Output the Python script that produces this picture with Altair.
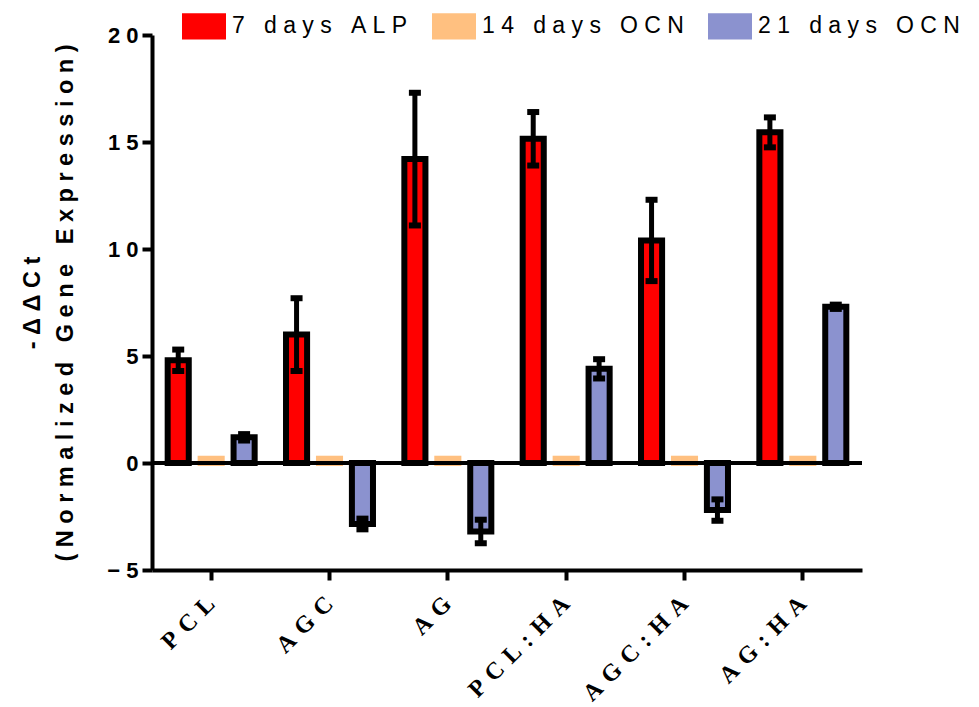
import altair as alt
import pandas as pd

groups = ["PCL", "AGC", "AG", "PCL:HA", "AGC:HA", "AG:HA"]
series = ["7 days ALP", "14 days OCN", "21 days OCN"]
colors = ["#FF0000", "#FFC080", "#8B92CF"]

alp7 = [4.8, 6.0, 14.2, 15.15, 10.4, 15.45]
alp7_err = [0.5, 1.7, 3.1, 1.25, 1.9, 0.7]
ocn14 = [0.2, 0.2, 0.2, 0.2, 0.2, 0.2]
ocn21 = [1.2, -2.85, -3.2, 4.4, -2.2, 7.3]
ocn21_err = [0.15, 0.25, 0.55, 0.45, 0.5, 0.1]

rows = []
for i, g in enumerate(groups):
    rows.append({"group": g, "series": series[0], "value": alp7[i], "err": alp7_err[i]})
    rows.append({"group": g, "series": series[1], "value": ocn14[i], "err": 0.0})
    rows.append({"group": g, "series": series[2], "value": ocn21[i], "err": ocn21_err[i]})
df = pd.DataFrame(rows)
df["lo"] = df["value"] - df["err"]
df["hi"] = df["value"] + df["err"]

NB = "\u00a0"
def spaced(s):
    return NB.join(list(s))

spread_expr = "join(split(datum.label, ''), '\u00a0')"
spread_wide = "join(split(datum.label, ''), '\u00a0\u200a')"

x_enc = alt.X("group:N", sort=groups, scale=alt.Scale(domain=groups, paddingInner=0.265, paddingOuter=0.1325),
              axis=alt.Axis(title=None, labelAngle=-45, labelFont="Liberation Serif", labelFontWeight="bold",
                            labelFontSize=24, labelColor="black", labelExpr=spread_wide,
                            domainWidth=4, domainColor="black", tickWidth=4, tickColor="black", tickSize=10,
                            labelPadding=20, labelAlign="right", labelBaseline="middle"))
xo_enc = alt.XOffset("series:N", sort=series, scale=alt.Scale(domain=series, paddingInner=0.36, paddingOuter=0))
y_scale = alt.Scale(domain=[-5, 20], nice=False, zero=False)
y_enc = alt.Y("value:Q", scale=y_scale,
              axis=alt.Axis(values=[-5, 0, 5, 10, 15, 20], grid=False, labelFont="Liberation Sans",
                            labelFontWeight="bold", labelFontSize=22, labelColor="black", labelExpr=spread_expr,
                            domainWidth=4, domainColor="black", tickWidth=4, tickColor="black", tickSize=10,
                            labelPadding=4,
                            title=[spaced("-ΔΔCt"), spaced("(Normalized Gene Expression)")],
                            titleFont="Liberation Sans", titleFontWeight="bold", titleFontSize=23.5,
                            titleColor="black", titlePadding=29, titleLineHeight=33))
color_enc = alt.Color("series:N", sort=series, scale=alt.Scale(domain=series, range=colors),
                      legend=alt.Legend(title=None, orient="none", direction="horizontal", legendX=30, legendY=-31,
                                        symbolType="M-1,-0.6H1V0.6H-1Z", symbolSize=1936, symbolStrokeWidth=0,
                                        symbolOpacity=1, labelFont="Liberation Sans", labelFontSize=23,
                                        labelColor="black", labelOffset=6, columnPadding=24,
                                        labelExpr=spread_expr, labelLimit=400))

base = alt.Chart(df)

bars_main = base.transform_filter(alt.datum.series != series[1]).mark_bar(
    stroke="black", strokeWidth=6).encode(x=x_enc, xOffset=xo_enc, y=y_enc, color=color_enc)
bars_orange = base.transform_filter(alt.datum.series == series[1]).mark_bar(
    stroke="#FFC080", strokeWidth=6).encode(x=x_enc, xOffset=xo_enc, y=y_enc, color=color_enc)

zero = alt.Chart(pd.DataFrame({"z": [0]})).mark_rule(color="black", strokeWidth=4).encode(y=alt.Y("z:Q", scale=y_scale))

err_df = base.transform_filter(alt.datum.err > 0)
err_rule = err_df.mark_rule(color="black", strokeWidth=5).encode(
    x=x_enc, xOffset=xo_enc, y=alt.Y("lo:Q", scale=y_scale), y2="hi:Q")
cap_lo = err_df.mark_tick(color="black", thickness=6, size=12, opacity=1).encode(
    x=x_enc, xOffset=xo_enc, y=alt.Y("lo:Q", scale=y_scale))
cap_hi = err_df.mark_tick(color="black", thickness=6, size=12, opacity=1).encode(
    x=x_enc, xOffset=xo_enc, y=alt.Y("hi:Q", scale=y_scale))

chart = alt.layer(bars_orange, bars_main, zero, err_rule, cap_lo, cap_hi).properties(
    width=710, height=535,
    autosize=alt.AutoSizeParams(type="none"),
    padding={"left": 152, "top": 35, "right": 117, "bottom": 137},
    background="white",
).configure_view(strokeWidth=0)

chart.save("out.html", embed_options={"renderer": "svg", "actions": False})
